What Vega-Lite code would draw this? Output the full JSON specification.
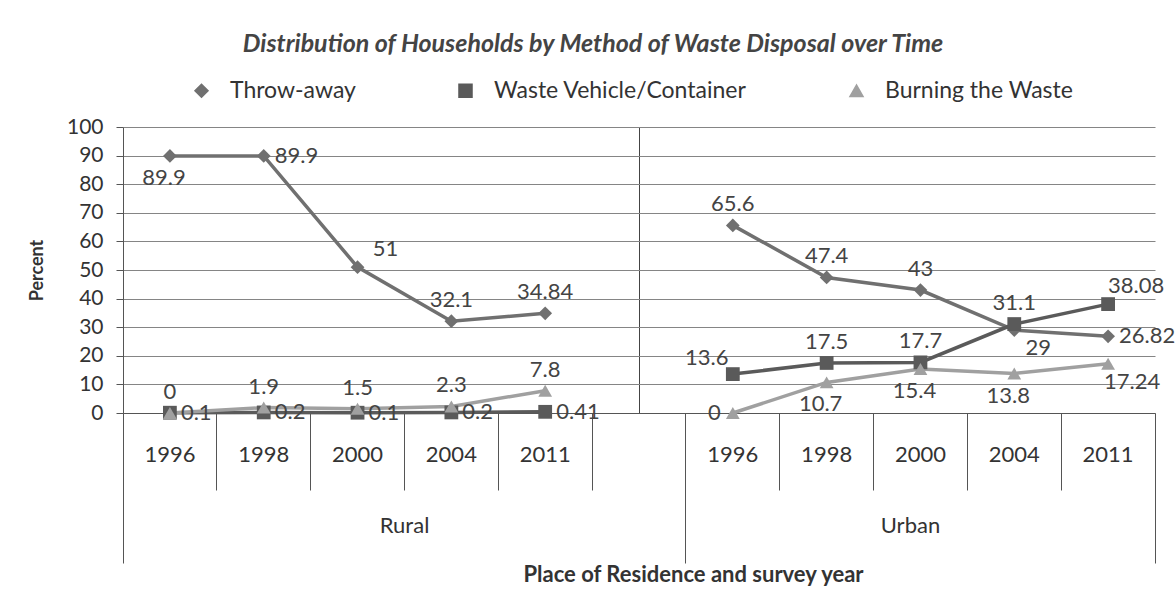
{
  "$schema": "https://vega.github.io/schema/vega-lite/v6.json",
  "width": 1032,
  "height": 286,
  "autosize": "none",
  "padding": {"left": 123, "top": 127, "right": 21, "bottom": 201},
  "background": "white",
  "config": {"view": {"stroke": null}, "font": "Lato"},
  "title": {
    "text": "Distribution of Households by Method of Waste Disposal over Time",
    "font": "Lato", "fontSize": 25, "fontWeight": "bold", "fontStyle": "italic",
    "color": "#444", "anchor": "middle", "dx": -46, "offset": 22, "frame": "group"
  },
  "data": {"values": [
    {"group": "Rural", "key": "R1996", "series": "Throw-away", "value": 89.9},
    {"group": "Rural", "key": "R1998", "series": "Throw-away", "value": 89.9},
    {"group": "Rural", "key": "R2000", "series": "Throw-away", "value": 51},
    {"group": "Rural", "key": "R2004", "series": "Throw-away", "value": 32.1},
    {"group": "Rural", "key": "R2011", "series": "Throw-away", "value": 34.84},
    {"group": "Rural", "key": "R1996", "series": "Waste Vehicle/Container", "value": 0.1},
    {"group": "Rural", "key": "R1998", "series": "Waste Vehicle/Container", "value": 0.2},
    {"group": "Rural", "key": "R2000", "series": "Waste Vehicle/Container", "value": 0.1},
    {"group": "Rural", "key": "R2004", "series": "Waste Vehicle/Container", "value": 0.2},
    {"group": "Rural", "key": "R2011", "series": "Waste Vehicle/Container", "value": 0.41},
    {"group": "Rural", "key": "R1996", "series": "Burning the Waste", "value": 0},
    {"group": "Rural", "key": "R1998", "series": "Burning the Waste", "value": 1.9},
    {"group": "Rural", "key": "R2000", "series": "Burning the Waste", "value": 1.5},
    {"group": "Rural", "key": "R2004", "series": "Burning the Waste", "value": 2.3},
    {"group": "Rural", "key": "R2011", "series": "Burning the Waste", "value": 7.8},
    {"group": "Urban", "key": "U1996", "series": "Throw-away", "value": 65.6},
    {"group": "Urban", "key": "U1998", "series": "Throw-away", "value": 47.4},
    {"group": "Urban", "key": "U2000", "series": "Throw-away", "value": 43},
    {"group": "Urban", "key": "U2004", "series": "Throw-away", "value": 29},
    {"group": "Urban", "key": "U2011", "series": "Throw-away", "value": 26.82},
    {"group": "Urban", "key": "U1996", "series": "Waste Vehicle/Container", "value": 13.6},
    {"group": "Urban", "key": "U1998", "series": "Waste Vehicle/Container", "value": 17.5},
    {"group": "Urban", "key": "U2000", "series": "Waste Vehicle/Container", "value": 17.7},
    {"group": "Urban", "key": "U2004", "series": "Waste Vehicle/Container", "value": 31.1},
    {"group": "Urban", "key": "U2011", "series": "Waste Vehicle/Container", "value": 38.08},
    {"group": "Urban", "key": "U1996", "series": "Burning the Waste", "value": 0},
    {"group": "Urban", "key": "U1998", "series": "Burning the Waste", "value": 10.7},
    {"group": "Urban", "key": "U2000", "series": "Burning the Waste", "value": 15.4},
    {"group": "Urban", "key": "U2004", "series": "Burning the Waste", "value": 13.8},
    {"group": "Urban", "key": "U2011", "series": "Burning the Waste", "value": 17.24}
  ]},
  "encoding": {
    "y": {
      "field": "value", "type": "quantitative",
      "scale": {"domain": [0, 100], "nice": false},
      "axis": {
        "title": "Percent", "titleFontSize": 18, "titleFontWeight": "bold", "titleColor": "#333", "titlePadding": 20,
        "values": [0, 10, 20, 30, 40, 50, 60, 70, 80, 90, 100],
        "labelFontSize": 21, "labelColor": "#333", "labelPadding": 13,
        "tickSize": 7, "tickColor": "#555", "domainColor": "#555",
        "gridColor": "#858585", "gridWidth": 1
      }
    }
  },
  "layer": [
    {
      "mark": {"type": "line", "strokeWidth": 3.5},
      "encoding": {
        "x": {
          "field": "key", "type": "nominal",
          "scale": {"type": "band", "domain": ["R1996", "R1998", "R2000", "R2004", "R2011", "Rgap", "U1996", "U1998", "U2000", "U2004", "U2011"], "paddingInner": 0, "paddingOuter": 0},
          "axis": {
            "orient": "bottom", "offset": 0, "title": null, "domain": true, "domainColor": "#555",
            "ticks": false, "tickSize": 0, "labelPadding": 31, "labelFontSize": 22, "labelColor": "#333",
            "labelAngle": 0, "labelOverlap": false,
            "labelExpr": "datum.value === 'Rgap' ? '' : slice(datum.value, 1)",
            "grid": true, "gridColor": "#444", "gridWidth": 1,
            "gridOpacity": {"condition": {"test": "datum.value === 'Rgap'", "value": 1}, "value": 0}
          }
        },
        "color": {
          "field": "series", "type": "nominal",
          "scale": {"domain": ["Throw-away", "Waste Vehicle/Container", "Burning the Waste"], "range": ["#707070", "#5a5a5a", "#a0a0a0"]},
          "legend": {"orient": "none", "legendX": 67, "legendY": -48, "direction": "horizontal", "columns": 3, "columnPadding": 98, "title": null, "labelFontSize": 23, "labelColor": "#333", "labelLimit": 0, "symbolSize": 170, "labelOffset": 17}
        },
        "detail": {"field": "group"}
      }
    },
    {
      "mark": {"type": "point", "filled": true, "size": 190, "opacity": 1},
      "encoding": {
        "x": {
          "field": "key", "type": "nominal",
          "scale": {"type": "band", "domain": ["R1996", "R1998", "R2000", "R2004", "R2011", "Rgap", "U1996", "U1998", "U2000", "U2004", "U2011"], "paddingInner": 0, "paddingOuter": 0},
          "axis": {
            "orient": "bottom", "offset": 0, "title": null, "domain": false, "labels": false,
            "ticks": true, "bandPosition": 0, "tickColor": "#555", "grid": false,
            "tickSize": {"condition": {"test": "datum.value === 'R1996' || datum.value === 'U1996'", "value": 150}, "value": 77}
          }
        },
        "color": {
          "field": "series", "type": "nominal",
          "scale": {"domain": ["Throw-away", "Waste Vehicle/Container", "Burning the Waste"], "range": ["#707070", "#5a5a5a", "#a0a0a0"]},
          "legend": {"orient": "none", "legendX": 67, "legendY": -48, "direction": "horizontal", "columns": 3, "columnPadding": 98, "title": null, "labelFontSize": 23, "labelColor": "#333", "labelLimit": 0, "symbolSize": 170, "labelOffset": 17}
        },
        "shape": {
          "field": "series", "type": "nominal",
          "scale": {"domain": ["Throw-away", "Waste Vehicle/Container", "Burning the Waste"], "range": ["diamond", "square", "triangle-up"]},
          "legend": {"orient": "none", "legendX": 67, "legendY": -48, "direction": "horizontal", "columns": 3, "columnPadding": 98, "title": null, "labelFontSize": 23, "labelColor": "#333", "labelLimit": 0, "symbolSize": 170, "labelOffset": 17}
        }
      }
    },
    {
      "transform": [{"filter": "indexof(['Throw-away|R2004','Throw-away|R2011','Throw-away|U1996','Throw-away|U1998','Throw-away|U2000','Waste Vehicle/Container|U1998','Waste Vehicle/Container|U2000','Waste Vehicle/Container|U2004','Burning the Waste|R1996','Burning the Waste|R1998','Burning the Waste|R2000','Burning the Waste|R2004','Burning the Waste|R2011'], datum.series + '|' + datum.key) >= 0"}],
      "mark": {"type": "text", "dy": -21, "fontSize": 22, "color": "#444"},
      "encoding": {
        "x": {
          "field": "key", "type": "nominal",
          "scale": {"type": "band", "domain": ["R1996", "R1998", "R2000", "R2004", "R2011", "Rgap", "U1996", "U1998", "U2000", "U2004", "U2011"], "paddingInner": 0, "paddingOuter": 0},
          "axis": {
            "orient": "bottom", "offset": 0, "title": "Place of Residence and survey year",
            "titleFontSize": 22, "titleFontWeight": "bold", "titleColor": "#333", "titlePadding": 1, "titleX": 570,
            "domain": false, "bandPosition": 1, "ticks": true, "tickSize": 150, "tickColor": "#555",
            "tickOpacity": {"condition": {"test": "datum.value === 'U2011'", "value": 1}, "value": 0},
            "labelExpr": "datum.value === 'R2000' ? 'Rural' : (datum.value === 'U2000' ? 'Urban' : '')",
            "labelPadding": -48, "labelFontSize": 22, "labelColor": "#333", "labelAngle": 0, "labelOverlap": false,
            "labelOffset": {"condition": {"test": "datum.value === 'U2000'", "value": -10}, "value": 47},
            "grid": false
          }
        },
        "text": {"field": "value", "type": "quantitative"}
      }
    },
    {
      "transform": [{"filter": "indexof(['Throw-away|R1996','Burning the Waste|U1998','Burning the Waste|U2000','Burning the Waste|U2004'], datum.series + '|' + datum.key) >= 0"}],
      "mark": {"type": "text", "dy": 22, "dx": -6, "fontSize": 22, "color": "#444"},
      "encoding": {
        "x": {"field": "key", "type": "nominal", "scale": {"type": "band", "domain": ["R1996", "R1998", "R2000", "R2004", "R2011", "Rgap", "U1996", "U1998", "U2000", "U2004", "U2011"], "paddingInner": 0, "paddingOuter": 0}, "axis": null},
        "text": {"field": "value", "type": "quantitative"}
      }
    },
    {
      "transform": [{"filter": "indexof(['Throw-away|R1998','Throw-away|U2011','Waste Vehicle/Container|R1996','Waste Vehicle/Container|R1998','Waste Vehicle/Container|R2000','Waste Vehicle/Container|R2004','Waste Vehicle/Container|R2011'], datum.series + '|' + datum.key) >= 0"}],
      "mark": {"type": "text", "dx": 11, "align": "left", "fontSize": 22, "color": "#444"},
      "encoding": {
        "x": {"field": "key", "type": "nominal", "scale": {"type": "band", "domain": ["R1996", "R1998", "R2000", "R2004", "R2011", "Rgap", "U1996", "U1998", "U2000", "U2004", "U2011"], "paddingInner": 0, "paddingOuter": 0}, "axis": null},
        "text": {"field": "value", "type": "quantitative"}
      }
    },
    {
      "transform": [{"filter": "indexof(['Throw-away|R2000','Waste Vehicle/Container|U2011'], datum.series + '|' + datum.key) >= 0"}],
      "mark": {"type": "text", "dx": 28, "dy": -18, "fontSize": 22, "color": "#444"},
      "encoding": {
        "x": {"field": "key", "type": "nominal", "scale": {"type": "band", "domain": ["R1996", "R1998", "R2000", "R2004", "R2011", "Rgap", "U1996", "U1998", "U2000", "U2004", "U2011"], "paddingInner": 0, "paddingOuter": 0}, "axis": null},
        "text": {"field": "value", "type": "quantitative"}
      }
    },
    {
      "transform": [{"filter": "indexof(['Throw-away|U2004','Burning the Waste|U2011'], datum.series + '|' + datum.key) >= 0"}],
      "mark": {"type": "text", "dx": 24, "dy": 18, "fontSize": 22, "color": "#444"},
      "encoding": {
        "x": {"field": "key", "type": "nominal", "scale": {"type": "band", "domain": ["R1996", "R1998", "R2000", "R2004", "R2011", "Rgap", "U1996", "U1998", "U2000", "U2004", "U2011"], "paddingInner": 0, "paddingOuter": 0}, "axis": null},
        "text": {"field": "value", "type": "quantitative"}
      }
    },
    {
      "transform": [{"filter": "datum.series === 'Burning the Waste' && datum.key === 'U1996'"}],
      "mark": {"type": "text", "dx": -12, "align": "right", "fontSize": 22, "color": "#444"},
      "encoding": {
        "x": {"field": "key", "type": "nominal", "scale": {"type": "band", "domain": ["R1996", "R1998", "R2000", "R2004", "R2011", "Rgap", "U1996", "U1998", "U2000", "U2004", "U2011"], "paddingInner": 0, "paddingOuter": 0}, "axis": null},
        "text": {"field": "value", "type": "quantitative"}
      }
    },
    {
      "transform": [{"filter": "datum.series === 'Waste Vehicle/Container' && datum.key === 'U1996'"}],
      "mark": {"type": "text", "dx": -26, "dy": -16, "fontSize": 22, "color": "#444"},
      "encoding": {
        "x": {"field": "key", "type": "nominal", "scale": {"type": "band", "domain": ["R1996", "R1998", "R2000", "R2004", "R2011", "Rgap", "U1996", "U1998", "U2000", "U2004", "U2011"], "paddingInner": 0, "paddingOuter": 0}, "axis": null},
        "text": {"field": "value", "type": "quantitative"}
      }
    }
  ],
  "resolve": {"axis": {"x": "independent"}}
}
